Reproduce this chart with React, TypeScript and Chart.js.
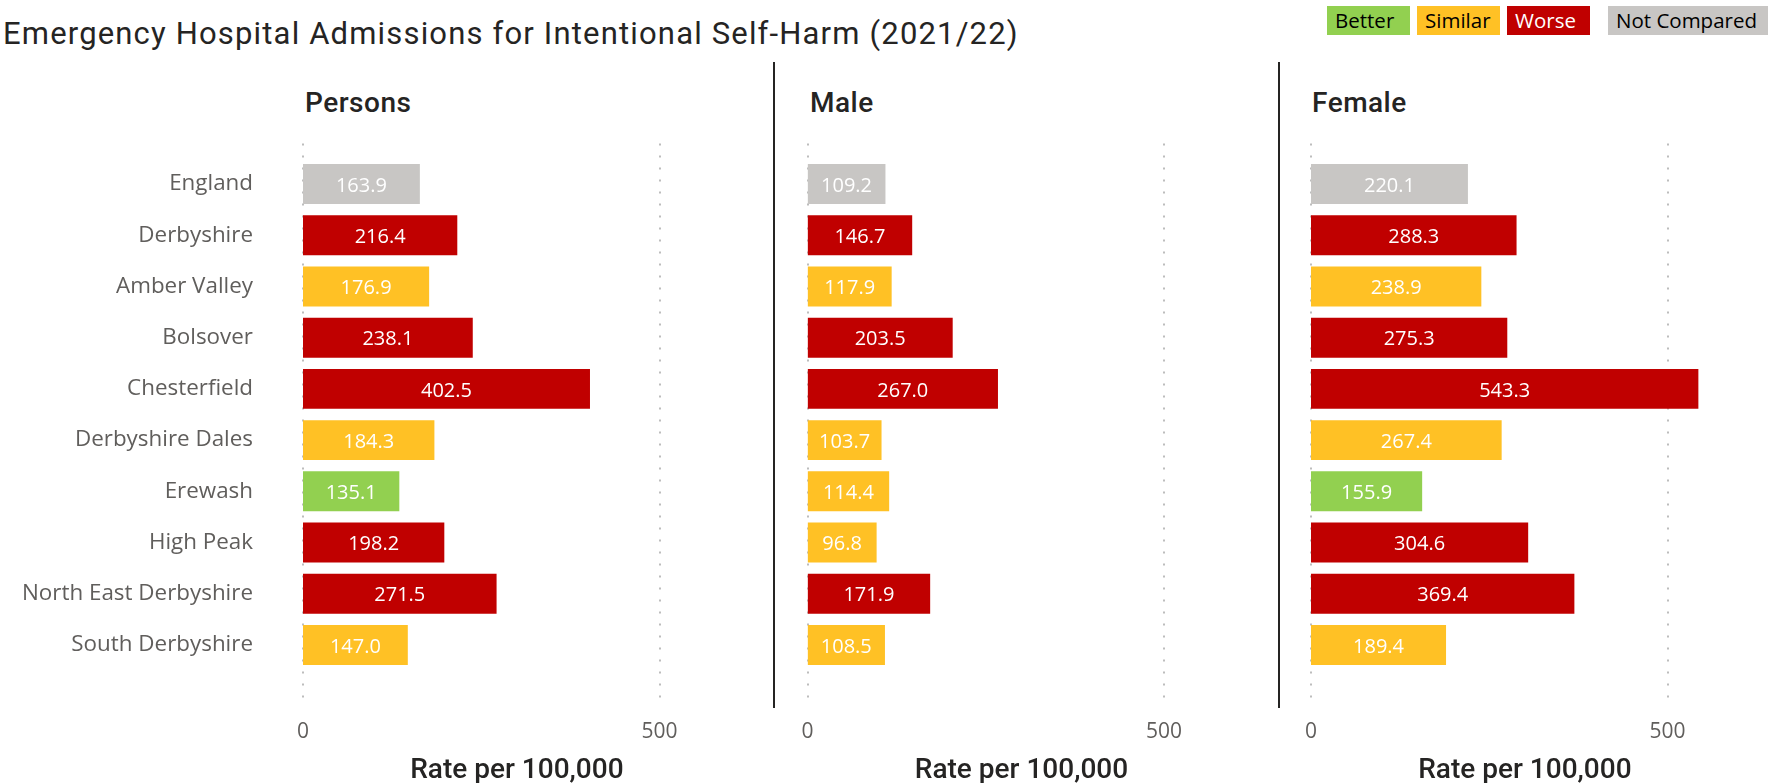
import React, { useEffect, useRef } from "react";
import { Chart, registerables } from "chart.js";

Chart.register(...registerables);

const CATEGORIES = [
  "England",
  "Derbyshire",
  "Amber Valley",
  "Bolsover",
  "Chesterfield",
  "Derbyshire Dales",
  "Erewash",
  "High Peak",
  "North East Derbyshire",
  "South Derbyshire",
];

const PERSONS = [163.9, 216.4, 176.9, 238.1, 402.5, 184.3, 135.1, 198.2, 271.5, 147.0];
const PERSONS_STATUS = ["Not Compared", "Worse", "Similar", "Worse", "Worse", "Similar", "Better", "Worse", "Worse", "Similar"];

const MALE = [109.2, 146.7, 117.9, 203.5, 267.0, 103.7, 114.4, 96.8, 171.9, 108.5];
const MALE_STATUS = ["Not Compared", "Worse", "Similar", "Worse", "Worse", "Similar", "Similar", "Similar", "Worse", "Similar"];

const FEMALE = [220.1, 288.3, 238.9, 275.3, 543.3, 267.4, 155.9, 304.6, 369.4, 189.4];
const FEMALE_STATUS = ["Not Compared", "Worse", "Similar", "Worse", "Worse", "Similar", "Better", "Worse", "Worse", "Similar"];

const X_TICKS = [0, 500];
const X_MAX = 600;

const LEGEND_ITEMS = ["Better", "Similar", "Worse", "Not Compared"];
const STATUS_COLORS: Record<string, string> = {
  Better: "#92D050",
  Similar: "#FFC125",
  Worse: "#C00000",
  "Not Compared": "#C8C6C4",
};

const TITLE = "Emergency Hospital Admissions for Intentional Self-Harm (2021/22)";
const AXIS_TITLE = "Rate per 100,000";

const dottedGrid = {
  id: "dottedGrid",
  beforeDatasetsDraw(chart: any) {
    const { ctx, chartArea, scales } = chart;
    ctx.save();
    ctx.strokeStyle = "#BDBDBD";
    ctx.lineWidth = 2;
    ctx.setLineDash([2, 10]);
    X_TICKS.forEach((v) => {
      const x = Math.round(scales.x.getPixelForValue(v));
      ctx.beginPath();
      ctx.moveTo(x, chartArea.top - 15);
      ctx.lineTo(x, chartArea.bottom + 37);
      ctx.stroke();
    });
    ctx.restore();
  },
};

const barLabels = {
  id: "barLabels",
  afterDatasetsDraw(chart: any) {
    const { ctx } = chart;
    const meta = chart.getDatasetMeta(0);
    const values = chart.data.datasets[0].data as number[];
    ctx.save();
    ctx.fillStyle = "#FFFFFF";
    ctx.font = '20px "Open Sans"';
    ctx.textAlign = "center";
    ctx.textBaseline = "middle";
    meta.data.forEach((bar: any, i: number) => {
      const { x, y, base } = bar.getProps(["x", "y", "base"], true);
      ctx.fillText(values[i].toFixed(1), (x + base) / 2, y + 2);
    });
    ctx.restore();
  },
};

type PanelProps = {
  values: number[];
  statuses: string[];
  showLabels: boolean;
  left: number;
  width: number;
  yAxisWidth: number;
  padRight: number;
};

function Panel({ values, statuses, showLabels, left, width, yAxisWidth, padRight }: PanelProps) {
  const ref = useRef<HTMLCanvasElement>(null);
  useEffect(() => {
    if (!ref.current) return;
    const chart = new Chart(ref.current, {
      type: "bar",
      data: {
        labels: CATEGORIES,
        datasets: [
          {
            data: values,
            backgroundColor: statuses.map((s) => STATUS_COLORS[s]),
            barPercentage: 0.78,
            categoryPercentage: 1,
          },
        ],
      },
      options: {
        indexAxis: "y",
        responsive: false,
        animation: false,
        layout: { padding: { top: 158.4, bottom: 0, left: 0, right: padRight } },
        plugins: { legend: { display: false }, tooltip: { enabled: false }, title: { display: false } },
        scales: {
          x: {
            min: 0,
            max: X_MAX,
            afterBuildTicks: (s: any) => {
              s.ticks = X_TICKS.map((v) => ({ value: v }));
            },
            afterFit: (s: any) => {
              s.height = 112.4;
            },
            grid: { display: false },
            border: { display: false },
            ticks: {
              padding: 41,
              color: "#605E5C",
              font: { family: "Open Sans", size: 21 },
            },
            title: {
              display: true,
              text: AXIS_TITLE,
              color: "#252423",
              font: { family: "Roboto", size: 28, weight: "500", lineHeight: 1 },
              padding: { top: 0, bottom: -2 },
            },
          },
          y: {
            afterFit: (s: any) => {
              s.width = yAxisWidth;
            },
            grid: { display: false },
            border: { display: false },
            ticks: {
              display: showLabels,
              padding: 42,
              color: "#605E5C",
              font: { family: "Open Sans", size: 22.4 },
            },
          },
        },
      } as any,
      plugins: [dottedGrid, barLabels],
    });
    return () => chart.destroy();
  }, []);
  return (
    <canvas
      ref={ref}
      width={width}
      height={783}
      style={{ position: "absolute", left, top: 0, width, height: 783 }}
    />
  );
}

const PANEL_TITLES = ["Persons", "Male", "Female"];

export default function App() {
  const panelTitleStyle = (left: number): React.CSSProperties => ({
    position: "absolute",
    left,
    top: 89,
    fontFamily: "Roboto",
    fontWeight: 500,
    fontSize: 28,
    lineHeight: "28px",
    letterSpacing: "0.5px",
    color: "#252423",
    whiteSpace: "nowrap",
  });
  const legendLefts = [1327, 1417, 1507, 1608];
  const legendWidths = [83, 83, 83, 160];
  return (
    <div
      style={{
        position: "fixed",
        left: 0,
        top: 0,
        width: 1786,
        height: 783,
        background: "#FFFFFF",
        overflow: "hidden",
      }}
    >
      <div
        style={{
          position: "absolute",
          left: 3,
          top: 18,
          fontFamily: "Roboto",
          fontSize: 31,
          lineHeight: "31px",
          letterSpacing: "1.17px",
          color: "#252423",
          whiteSpace: "nowrap",
        }}
      >
        {TITLE}
      </div>
      {LEGEND_ITEMS.map((item, i) => (
        <div
          key={item}
          style={{
            position: "absolute",
            left: legendLefts[i],
            top: 6,
            width: legendWidths[i],
            height: 29,
            background: STATUS_COLORS[item],
            color: item === "Worse" ? "#FFFFFF" : "#000000",
            fontFamily: "Open Sans",
            fontSize: 20.5,
            lineHeight: "29px",
            paddingLeft: 8,
            boxSizing: "border-box",
            whiteSpace: "nowrap",
          }}
        >
          {item}
        </div>
      ))}
      <div style={panelTitleStyle(305)}>{PANEL_TITLES[0]}</div>
      <div style={panelTitleStyle(810)}>{PANEL_TITLES[1]}</div>
      <div style={panelTitleStyle(1312)}>{PANEL_TITLES[2]}</div>
      <div style={{ position: "absolute", left: 773, top: 62, width: 2, height: 646, background: "#252423" }} />
      <div style={{ position: "absolute", left: 1278, top: 62, width: 2, height: 646, background: "#252423" }} />
      <Panel values={PERSONS} statuses={PERSONS_STATUS} showLabels={true} left={0} width={770} yAxisWidth={303} padRight={39.2} />
      <Panel values={MALE} statuses={MALE_STATUS} showLabels={false} left={740} width={531} yAxisWidth={67.6} padRight={35.6} />
      <Panel values={FEMALE} statuses={FEMALE_STATUS} showLabels={false} left={1241} width={545} yAxisWidth={70} padRight={47.2} />
    </div>
  );
}
